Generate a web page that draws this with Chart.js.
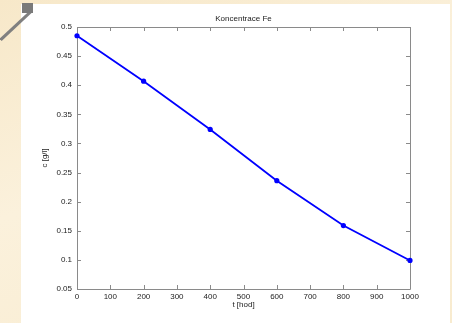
<!DOCTYPE html>
<html>
<head>
<meta charset="utf-8">
<script src="https://cdn.jsdelivr.net/npm/chart.js@4/dist/chart.umd.min.js"></script>
<style>
    html, body {
        margin: 0;
        padding: 0;
        width: 452px;
        height: 323px;
        overflow: hidden;
        background: linear-gradient(160deg, #f7e8c9 0%, #fbf1dc 45%, #f8ebcf 100%);
    }
    #paper {
        position: absolute;
        left: 21px;
        top: 4px;
        width: 429px;
        height: 319px;
        background: #fff;
    }
    #pin {
        position: absolute;
        left: -5px;
        top: 24px;
        width: 42px;
        height: 3px;
        background: #808080;
        transform: rotate(-43deg);
        transform-origin: 50% 50%;
    }
    #pinHead {
        position: absolute;
        left: 22px;
        top: 3px;
        width: 11px;
        height: 10px;
        background: #7a7a7a;
    }
    #wrap {
        position: absolute;
        left: 0;
        top: 0;
        width: 452px;
        height: 323px;
    }
</style>
</head>
<body>
<div id="paper"></div>
<div id="pin"></div>
<div id="pinHead"></div>
<div id="wrap"><canvas id="feChart" width="452" height="323"></canvas></div>
<script>
const times = [0, 200, 400, 600, 800, 1000];
const concentration = [0.485, 0.407, 0.324, 0.236, 0.159, 0.099];

// MATLAB-like box with inward ticks on all four sides
const boxTicks = {
    id: 'boxTicks',
    afterLayout(chart) {
        // center the title over the plot area, like MATLAB does
        const tb = chart.titleBlock;
        if (tb) {
            tb.left = chart.chartArea.left;
            tb.right = chart.chartArea.right;
        }
    },
    beforeDatasetsDraw(chart) {
        const {ctx, chartArea: a, scales: {x, y}} = chart;
        const len = 4;
        ctx.save();
        ctx.strokeStyle = '#8a8a8a';
        ctx.lineWidth = 1;
        ctx.beginPath();
        ctx.rect(Math.round(a.left) + 0.5, Math.round(a.top) + 0.5,
            Math.round(a.right - a.left), Math.round(a.bottom - a.top));
        x.ticks.forEach(t => {
            const px = Math.round(x.getPixelForValue(t.value)) + 0.5;
            ctx.moveTo(px, a.bottom);
            ctx.lineTo(px, a.bottom - len);
            ctx.moveTo(px, a.top);
            ctx.lineTo(px, a.top + len);
        });
        y.ticks.forEach(t => {
            const py = Math.round(y.getPixelForValue(t.value)) + 0.5;
            ctx.moveTo(a.left, py);
            ctx.lineTo(a.left + len, py);
            ctx.moveTo(a.right, py);
            ctx.lineTo(a.right - len, py);
        });
        ctx.stroke();
        ctx.restore();
    }
};

const ctx = document.getElementById('feChart').getContext('2d');
new Chart(ctx, {
    type: 'line',
    data: {
        datasets: [{
            label: 'Fe',
            data: times.map((t, i) => ({x: t, y: concentration[i]})),
            borderColor: '#0000ff',
            backgroundColor: '#0000ff',
            borderWidth: 1.8,
            pointRadius: 2.6,
            pointBorderWidth: 0,
            fill: false,
            tension: 0,
            clip: false
        }]
    },
    options: {
        responsive: false,
        animation: false,
        layout: {
            padding: {left: 0, right: 42, top: 0, bottom: 0}
        },
        scales: {
            x: {
                type: 'linear',
                min: 0,
                max: 1000,
                grid: {display: false, drawTicks: false},
                border: {display: false},
                ticks: {
                    stepSize: 100,
                    padding: 3,
                    color: '#222',
                    font: {family: 'Liberation Sans', size: 8},
                    maxRotation: 0,
                    callback: v => String(v)
                },
                title: {
                    display: true,
                    text: 't [hod]',
                    color: '#222',
                    font: {family: 'Liberation Sans', size: 8},
                    padding: {top: 0, bottom: 13}
                },
                afterFit: scale => { scale.height = 34; }
            },
            y: {
                type: 'linear',
                min: 0.05,
                max: 0.5,
                grid: {display: false, drawTicks: false},
                border: {display: false},
                ticks: {
                    stepSize: 0.05,
                    padding: 5,
                    color: '#222',
                    font: {family: 'Liberation Sans', size: 8},
                    callback: v => String(+v.toFixed(2))
                },
                title: {
                    display: true,
                    text: 'c [g/l]',
                    color: '#222',
                    font: {family: 'Liberation Sans', size: 8},
                    padding: {top: 40, bottom: 0}
                },
                afterFit: scale => { scale.width = 77; }
            }
        },
        plugins: {
            legend: {display: false},
            tooltip: {enabled: false},
            title: {
                display: true,
                text: 'Koncentrace Fe',
                color: '#222',
                font: {family: 'Liberation Sans', size: 8, weight: 'normal'},
                padding: {top: 14.2, bottom: 3.2}
            }
        }
    },
    plugins: [boxTicks]
});
</script>
</body>
</html>
